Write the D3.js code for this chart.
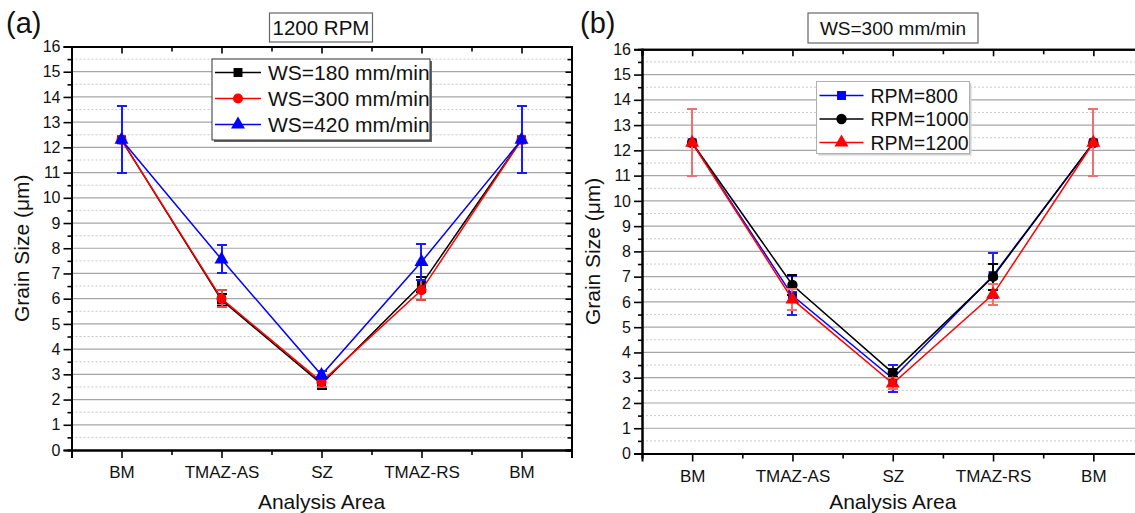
<!DOCTYPE html>
<html>
<head>
<meta charset="utf-8">
<script src="https://cdn.jsdelivr.net/npm/d3@7"></script>
<style>
  html, body { margin: 0; padding: 0; background: #fff; }
  svg { display: block; font-family: "Liberation Sans", Arial, sans-serif; }
</style>
</head>
<body>
<svg id="chart" width="1135" height="513"></svg>
<script>
// Analysis areas across the weld (x categories)
const areas = ["BM", "TMAZ-AS", "SZ", "TMAZ-RS", "BM"];
const yTicks = d3.range(0, 17);

// Panel (a): 1200 RPM, varying welding speed
const ws180 = [12.3, 5.95, 2.62, 6.57, 12.3];
const ws180Err = [1.33, 0.25, 0.22, 0.3, 1.33];
const ws300 = [12.3, 6.0, 2.7, 6.34, 12.3];
const ws300Err = [1.33, 0.33, 0.2, 0.4, 1.33];
const ws420 = [12.3, 7.56, 2.97, 7.46, 12.3];
const ws420Err = [1.33, 0.56, 0.15, 0.7, 1.33];

// Panel (b): WS = 300 mm/min, varying rotation speed
const rpm800 = [12.3, 6.25, 2.97, 7.04, 12.3];
const rpm800Err = [1.33, 0.78, 0.53, 0.9, 1.33];
const rpm1000 = [12.3, 6.67, 3.19, 7.0, 12.3];
const rpm1000Err = [1.33, 0.38, 0.15, 0.52, 1.33];
const rpm1200 = [12.3, 6.1, 2.77, 6.3, 12.3];
const rpm1200Err = [1.33, 0.42, 0.2, 0.42, 1.33];

const svg = d3.select("#chart");

function drawPanel(p) {
  const g = svg.append("g");
  const x = d3.scaleLinear().domain([0.5, 5.5]).range([p.left, p.right]);
  const y = d3.scaleLinear().domain([0, 16]).range([p.bottom, p.top]);
  const idx = areas.map((d, i) => i + 1);

  // grid: dotted half-unit lines, solid unit lines
  g.selectAll(".minor").data(d3.range(0.5, 16, 1)).join("line")
    .attr("x1", p.left).attr("x2", p.right)
    .attr("y1", d => y(d)).attr("y2", d => y(d))
    .attr("stroke", "#c8c8c8").attr("stroke-width", 1)
    .attr("stroke-dasharray", "2,2");
  g.selectAll(".major").data(yTicks.slice(1, 16)).join("line")
    .attr("x1", p.left).attr("x2", p.right)
    .attr("y1", d => y(d)).attr("y2", d => y(d))
    .attr("stroke", "#a6a6a6").attr("stroke-width", 1.2);

  // left axis (outward ticks)
  const left = g.append("g").attr("transform", `translate(${p.left},0)`)
    .call(d3.axisLeft(y).tickValues(yTicks).tickSize(8).tickPadding(3).tickFormat(d3.format("d")));
  left.append("g").call(d3.axisLeft(y).tickValues(d3.range(0.5, 16, 1)).tickSize(4).tickFormat(""));
  // bottom axis (outward ticks)
  const bottom = g.append("g").attr("transform", `translate(0,${p.bottom})`)
    .call(d3.axisBottom(x).tickValues(idx).tickSize(8).tickPadding(8).tickFormat((d, i) => areas[i]));
  bottom.append("g").call(d3.axisBottom(x).tickValues([0.5, 1.5, 2.5, 3.5, 4.5, 5.5]).tickSize(5).tickFormat(""));
  // top and right axes (inward ticks)
  const top = g.append("g").attr("transform", `translate(0,${p.top})`)
    .call(d3.axisTop(x).tickValues(idx).tickSize(-7).tickFormat(""));
  top.append("g").call(d3.axisTop(x).tickValues([1.5, 2.5, 3.5, 4.5]).tickSize(-5).tickFormat(""));
  const right = g.append("g").attr("transform", `translate(${p.right},0)`)
    .call(d3.axisRight(y).tickValues(yTicks).tickSize(-6).tickFormat(""));
  right.append("g").call(d3.axisRight(y).tickValues(d3.range(0.5, 16, 1)).tickSize(-4).tickFormat(""));

  [left, bottom, top, right].forEach(a => {
    a.attr("font-size", null).attr("font-family", null);
    a.selectAll(".domain").attr("stroke", "#000").attr("stroke-width", 2);
    a.selectAll("line").attr("stroke", "#000").attr("stroke-width", 1.6);
    a.selectAll("text").attr("fill", "#111");
  });
  left.selectAll("text").style("font-size", "16px");
  bottom.selectAll("text").style("font-size", "17px");

  // series: lines, error bars, markers
  const line = d3.line().x((d, i) => x(i + 1)).y(d => y(d));
  p.series.forEach(s => {
    const sg = g.append("g");
    sg.append("path").datum(s.values).attr("d", line)
      .attr("fill", "none").attr("stroke", s.color).attr("stroke-width", 1.5);
    const eb = sg.append("g").attr("stroke", s.errColor).attr("stroke-width", 2)
      .attr("shape-rendering", "crispEdges");
    s.values.forEach((v, i) => {
      const cx = Math.round(x(i + 1)), e = s.err[i];
      eb.append("line").attr("x1", cx).attr("x2", cx).attr("y1", y(v - e)).attr("y2", y(v + e));
      eb.append("line").attr("x1", cx - 5).attr("x2", cx + 5).attr("y1", y(v + e)).attr("y2", y(v + e));
      eb.append("line").attr("x1", cx - 5).attr("x2", cx + 5).attr("y1", y(v - e)).attr("y2", y(v - e));
    });
    sg.selectAll(".mk").data(s.values).join("path")
      .attr("transform", (d, i) => `translate(${x(i + 1)},${y(d)})`)
      .attr("d", d3.symbol().type(s.symbol).size(s.size))
      .attr("fill", s.color);
  });

  // legend
  const L = p.legend;
  g.append("rect").attr("x", L.x + 2).attr("y", L.y + 2).attr("width", L.w).attr("height", L.h)
    .attr("fill", L.shadow);
  g.append("rect").attr("x", L.x).attr("y", L.y).attr("width", L.w).attr("height", L.h)
    .attr("fill", "#fff").attr("stroke", L.stroke).attr("stroke-width", 1);
  p.series.forEach((s, i) => {
    const ly = L.y + L.first + i * L.step;
    g.append("line").attr("x1", L.x + 3).attr("x2", L.x + 3 + L.lineLen)
      .attr("y1", ly).attr("y2", ly).attr("stroke", s.color).attr("stroke-width", 1.5);
    g.append("path").attr("transform", `translate(${L.x + 3 + L.lineLen / 2},${ly})`)
      .attr("d", d3.symbol().type(s.symbol).size(s.size)).attr("fill", s.color);
    g.append("text").attr("x", L.x + L.lineLen + 10).attr("y", ly + 7)
      .attr("font-size", L.font).attr("fill", "#111").text(s.name);
  });

  // title box
  const T = p.title;
  g.append("rect").attr("x", T.x).attr("y", T.y).attr("width", T.w).attr("height", T.h)
    .attr("fill", "#fff").attr("stroke", "#666").attr("stroke-width", 1.2);
  g.append("text").attr("x", T.x + T.w / 2).attr("y", T.y + T.h / 2 + 7)
    .attr("text-anchor", "middle").attr("font-size", T.font).attr("fill", "#111").text(T.text);

  // panel letter
  g.append("text").attr("x", p.letterX).attr("y", 33).attr("font-size", 29)
    .attr("fill", "#111").text(p.letter);

  // axis titles
  g.append("text").attr("transform", `translate(${p.yLabelX},${(p.top + p.bottom) / 2}) rotate(-90)`)
    .attr("text-anchor", "middle").attr("font-size", 21).attr("fill", "#111").text("Grain Size (μm)");
  g.append("text").attr("x", x(3)).attr("y", 509)
    .attr("text-anchor", "middle").attr("font-size", 21).attr("fill", "#111").text("Analysis Area");
}

drawPanel({
  left: 71.5, right: 571.5, top: 46.5, bottom: 450,
  letter: "(a)", letterX: 6, yLabelX: 29,
  title: { x: 269.5, y: 13, w: 103, h: 29, text: "1200 RPM", font: 20.5 },
  legend: { x: 212, y: 59, w: 218, h: 81, first: 13.5, step: 26, lineLen: 46, font: 21, stroke: "#333", shadow: "#666" },
  series: [
    { name: "WS=180 mm/min", values: ws180, err: ws180Err, color: "#000000", errColor: "#000000", symbol: d3.symbolSquare, size: 80 },
    { name: "WS=300 mm/min", values: ws300, err: ws300Err, color: "#ff0000", errColor: "#f04848", symbol: d3.symbolCircle, size: 80 },
    { name: "WS=420 mm/min", values: ws420, err: ws420Err, color: "#0000ff", errColor: "#1a1aff", symbol: d3.symbolTriangle, size: 85 }
  ]
});

drawPanel({
  left: 642, right: 1143.5, top: 49.3, bottom: 453.5,
  letter: "(b)", letterX: 580, yLabelX: 600,
  title: { x: 808, y: 13, w: 170, h: 30, text: "WS=300 mm/min", font: 19 },
  legend: { x: 816.5, y: 81.5, w: 153, h: 72, first: 14, step: 23.5, lineLen: 44, font: 19.5, stroke: "#b0b0b0", shadow: "#d0d0d0" },
  series: [
    { name: "RPM=800", values: rpm800, err: rpm800Err, color: "#0000ff", errColor: "#2020ff", symbol: d3.symbolSquare, size: 80 },
    { name: "RPM=1000", values: rpm1000, err: rpm1000Err, color: "#000000", errColor: "#000000", symbol: d3.symbolCircle, size: 85 },
    { name: "RPM=1200", values: rpm1200, err: rpm1200Err, color: "#ff0000", errColor: "#f07070", symbol: d3.symbolTriangle, size: 85 }
  ]
});
</script>
</body>
</html>
